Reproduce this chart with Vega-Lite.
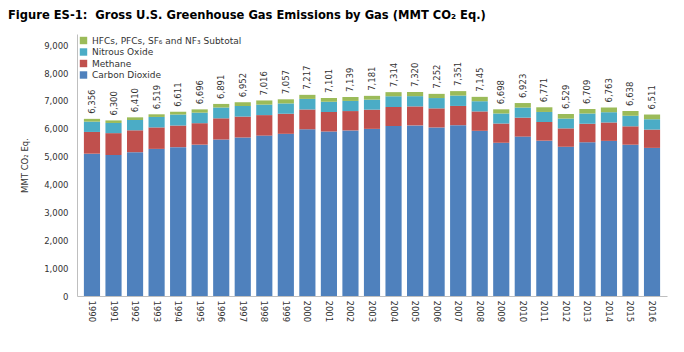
{
  "$schema": "https://vega.github.io/schema/vega-lite/v6.json",
  "autosize": {"type": "none"},
  "padding": {"left": 77, "top": 34, "right": 17, "bottom": 56},
  "width": 590,
  "height": 262,
  "background": "white",
  "title": {
    "text": "Figure ES-1:\u00a0 Gross U.S. Greenhouse Gas Emissions by Gas (MMT CO₂ Eq.)",
    "anchor": "start",
    "frame": "group",
    "dx": -69,
    "offset": 12,
    "font": "DejaVu Sans Condensed",
    "fontSize": 12.8,
    "fontWeight": "bold",
    "color": "#000000"
  },
  "config": {
    "view": {"stroke": null},
    "font": "DejaVu Sans",
    "axis": {"labelColor": "#333333", "titleColor": "#333333", "grid": false, "domainColor": "#bfbfbf", "ticks": false}
  },
  "datasets": {
    "gases": [
      {"year": "1990", "gas": "Carbon Dioxide", "value": 5106}, {"year": "1990", "gas": "Methane", "value": 780}, {"year": "1990", "gas": "Nitrous Oxide", "value": 370}, {"year": "1990", "gas": "HFCs, PFCs, SF₆ and NF₃ Subtotal", "value": 100},
      {"year": "1991", "gas": "Carbon Dioxide", "value": 5058}, {"year": "1991", "gas": "Methane", "value": 785}, {"year": "1991", "gas": "Nitrous Oxide", "value": 365}, {"year": "1991", "gas": "HFCs, PFCs, SF₆ and NF₃ Subtotal", "value": 92},
      {"year": "1992", "gas": "Carbon Dioxide", "value": 5160}, {"year": "1992", "gas": "Methane", "value": 785}, {"year": "1992", "gas": "Nitrous Oxide", "value": 370}, {"year": "1992", "gas": "HFCs, PFCs, SF₆ and NF₃ Subtotal", "value": 95},
      {"year": "1993", "gas": "Carbon Dioxide", "value": 5279}, {"year": "1993", "gas": "Methane", "value": 770}, {"year": "1993", "gas": "Nitrous Oxide", "value": 375}, {"year": "1993", "gas": "HFCs, PFCs, SF₆ and NF₃ Subtotal", "value": 95},
      {"year": "1994", "gas": "Carbon Dioxide", "value": 5341}, {"year": "1994", "gas": "Methane", "value": 775}, {"year": "1994", "gas": "Nitrous Oxide", "value": 395}, {"year": "1994", "gas": "HFCs, PFCs, SF₆ and NF₃ Subtotal", "value": 100},
      {"year": "1995", "gas": "Carbon Dioxide", "value": 5430}, {"year": "1995", "gas": "Methane", "value": 770}, {"year": "1995", "gas": "Nitrous Oxide", "value": 378}, {"year": "1995", "gas": "HFCs, PFCs, SF₆ and NF₃ Subtotal", "value": 118},
      {"year": "1996", "gas": "Carbon Dioxide", "value": 5615}, {"year": "1996", "gas": "Methane", "value": 760}, {"year": "1996", "gas": "Nitrous Oxide", "value": 388}, {"year": "1996", "gas": "HFCs, PFCs, SF₆ and NF₃ Subtotal", "value": 128},
      {"year": "1997", "gas": "Carbon Dioxide", "value": 5687}, {"year": "1997", "gas": "Methane", "value": 750}, {"year": "1997", "gas": "Nitrous Oxide", "value": 380}, {"year": "1997", "gas": "HFCs, PFCs, SF₆ and NF₃ Subtotal", "value": 135},
      {"year": "1998", "gas": "Carbon Dioxide", "value": 5755}, {"year": "1998", "gas": "Methane", "value": 735}, {"year": "1998", "gas": "Nitrous Oxide", "value": 376}, {"year": "1998", "gas": "HFCs, PFCs, SF₆ and NF₃ Subtotal", "value": 150},
      {"year": "1999", "gas": "Carbon Dioxide", "value": 5819}, {"year": "1999", "gas": "Methane", "value": 720}, {"year": "1999", "gas": "Nitrous Oxide", "value": 370}, {"year": "1999", "gas": "HFCs, PFCs, SF₆ and NF₃ Subtotal", "value": 148},
      {"year": "2000", "gas": "Carbon Dioxide", "value": 5982}, {"year": "2000", "gas": "Methane", "value": 710}, {"year": "2000", "gas": "Nitrous Oxide", "value": 380}, {"year": "2000", "gas": "HFCs, PFCs, SF₆ and NF₃ Subtotal", "value": 145},
      {"year": "2001", "gas": "Carbon Dioxide", "value": 5905}, {"year": "2001", "gas": "Methane", "value": 700}, {"year": "2001", "gas": "Nitrous Oxide", "value": 363}, {"year": "2001", "gas": "HFCs, PFCs, SF₆ and NF₃ Subtotal", "value": 133},
      {"year": "2002", "gas": "Carbon Dioxide", "value": 5940}, {"year": "2002", "gas": "Methane", "value": 695}, {"year": "2002", "gas": "Nitrous Oxide", "value": 364}, {"year": "2002", "gas": "HFCs, PFCs, SF₆ and NF₃ Subtotal", "value": 140},
      {"year": "2003", "gas": "Carbon Dioxide", "value": 5996}, {"year": "2003", "gas": "Methane", "value": 690}, {"year": "2003", "gas": "Nitrous Oxide", "value": 359}, {"year": "2003", "gas": "HFCs, PFCs, SF₆ and NF₃ Subtotal", "value": 136},
      {"year": "2004", "gas": "Carbon Dioxide", "value": 6100}, {"year": "2004", "gas": "Methane", "value": 680}, {"year": "2004", "gas": "Nitrous Oxide", "value": 386}, {"year": "2004", "gas": "HFCs, PFCs, SF₆ and NF₃ Subtotal", "value": 148},
      {"year": "2005", "gas": "Carbon Dioxide", "value": 6121}, {"year": "2005", "gas": "Methane", "value": 681}, {"year": "2005", "gas": "Nitrous Oxide", "value": 368}, {"year": "2005", "gas": "HFCs, PFCs, SF₆ and NF₃ Subtotal", "value": 150},
      {"year": "2006", "gas": "Carbon Dioxide", "value": 6047}, {"year": "2006", "gas": "Methane", "value": 685}, {"year": "2006", "gas": "Nitrous Oxide", "value": 370}, {"year": "2006", "gas": "HFCs, PFCs, SF₆ and NF₃ Subtotal", "value": 150},
      {"year": "2007", "gas": "Carbon Dioxide", "value": 6129}, {"year": "2007", "gas": "Methane", "value": 690}, {"year": "2007", "gas": "Nitrous Oxide", "value": 372}, {"year": "2007", "gas": "HFCs, PFCs, SF₆ and NF₃ Subtotal", "value": 160},
      {"year": "2008", "gas": "Carbon Dioxide", "value": 5927}, {"year": "2008", "gas": "Methane", "value": 695}, {"year": "2008", "gas": "Nitrous Oxide", "value": 366}, {"year": "2008", "gas": "HFCs, PFCs, SF₆ and NF₃ Subtotal", "value": 157},
      {"year": "2009", "gas": "Carbon Dioxide", "value": 5498}, {"year": "2009", "gas": "Methane", "value": 690}, {"year": "2009", "gas": "Nitrous Oxide", "value": 360}, {"year": "2009", "gas": "HFCs, PFCs, SF₆ and NF₃ Subtotal", "value": 150},
      {"year": "2010", "gas": "Carbon Dioxide", "value": 5719}, {"year": "2010", "gas": "Methane", "value": 680}, {"year": "2010", "gas": "Nitrous Oxide", "value": 362}, {"year": "2010", "gas": "HFCs, PFCs, SF₆ and NF₃ Subtotal", "value": 162},
      {"year": "2011", "gas": "Carbon Dioxide", "value": 5573}, {"year": "2011", "gas": "Methane", "value": 670}, {"year": "2011", "gas": "Nitrous Oxide", "value": 360}, {"year": "2011", "gas": "HFCs, PFCs, SF₆ and NF₃ Subtotal", "value": 168},
      {"year": "2012", "gas": "Carbon Dioxide", "value": 5354}, {"year": "2012", "gas": "Methane", "value": 660}, {"year": "2012", "gas": "Nitrous Oxide", "value": 352}, {"year": "2012", "gas": "HFCs, PFCs, SF₆ and NF₃ Subtotal", "value": 163},
      {"year": "2013", "gas": "Carbon Dioxide", "value": 5518}, {"year": "2013", "gas": "Methane", "value": 660}, {"year": "2013", "gas": "Nitrous Oxide", "value": 368}, {"year": "2013", "gas": "HFCs, PFCs, SF₆ and NF₃ Subtotal", "value": 163},
      {"year": "2014", "gas": "Carbon Dioxide", "value": 5566}, {"year": "2014", "gas": "Methane", "value": 660}, {"year": "2014", "gas": "Nitrous Oxide", "value": 368}, {"year": "2014", "gas": "HFCs, PFCs, SF₆ and NF₃ Subtotal", "value": 169},
      {"year": "2015", "gas": "Carbon Dioxide", "value": 5428}, {"year": "2015", "gas": "Methane", "value": 660}, {"year": "2015", "gas": "Nitrous Oxide", "value": 379}, {"year": "2015", "gas": "HFCs, PFCs, SF₆ and NF₃ Subtotal", "value": 171},
      {"year": "2016", "gas": "Carbon Dioxide", "value": 5314}, {"year": "2016", "gas": "Methane", "value": 657}, {"year": "2016", "gas": "Nitrous Oxide", "value": 370}, {"year": "2016", "gas": "HFCs, PFCs, SF₆ and NF₃ Subtotal", "value": 170}
    ]
  },
  "data": {"name": "gases"},
  "encoding": {
    "x": {
      "field": "year", "type": "nominal", "title": null,
      "scale": {"paddingInner": 0.25, "paddingOuter": 0.32},
      "axis": {"labelAngle": 90, "labelFontSize": 8.5, "labelPadding": 4, "labelFontWeight": "normal", "labelOverlap": false}
    }
  },
  "layer": [
    {
      "transform": [{"calculate": "indexof(['Carbon Dioxide', 'Methane', 'Nitrous Oxide', 'HFCs, PFCs, SF₆ and NF₃ Subtotal'], datum.gas)", "as": "stackRank"}],
      "mark": {"type": "bar"},
      "encoding": {
        "y": {
          "field": "value", "type": "quantitative", "aggregate": "sum",
          "title": "MMT CO₂ Eq.",
          "scale": {"domain": [0, 9400], "nice": false},
          "axis": {"values": [0, 1000, 2000, 3000, 4000, 5000, 6000, 7000, 8000, 9000], "format": ",.0f", "labelOverlap": false, "labelFontSize": 8.5, "labelPadding": 9, "titleFontSize": 8.5, "titleFontWeight": "normal", "titlePadding": 14}
        },
        "color": {
          "field": "gas", "type": "nominal",
          "sort": ["HFCs, PFCs, SF₆ and NF₃ Subtotal", "Nitrous Oxide", "Methane", "Carbon Dioxide"],
          "scale": {
            "domain": ["HFCs, PFCs, SF₆ and NF₃ Subtotal", "Nitrous Oxide", "Methane", "Carbon Dioxide"],
            "range": ["#9BBB59", "#4BACC6", "#C0504D", "#4F81BD"]
          },
          "legend": {
            "title": null,
            "orient": "none",
            "legendX": 2,
            "legendY": 2,
            "symbolType": "square",
            "symbolSize": 55,
            "symbolStrokeWidth": 0,
            "labelFontSize": 9,
            "labelColor": "#333333",
            "rowPadding": 1.5,
            "labelOffset": 4
          }
        },
        "order": {"field": "stackRank", "type": "quantitative", "sort": "ascending"}
      }
    },
    {
      "transform": [{"aggregate": [{"op": "sum", "field": "value", "as": "total"}], "groupby": ["year"]}],
      "mark": {"type": "text", "angle": 270, "align": "left", "baseline": "middle", "dx": 5, "fontSize": 8.5, "color": "#333333"},
      "encoding": {
        "y": {
          "field": "total", "type": "quantitative",
          "title": "MMT CO₂ Eq.",
          "scale": {"domain": [0, 9400], "nice": false},
          "axis": {"values": [0, 1000, 2000, 3000, 4000, 5000, 6000, 7000, 8000, 9000], "format": ",.0f", "labelOverlap": false, "labelFontSize": 8.5, "labelPadding": 9, "titleFontSize": 8.5, "titleFontWeight": "normal", "titlePadding": 14}
        },
        "text": {"field": "total", "type": "quantitative", "format": ","}
      }
    }
  ]
}
